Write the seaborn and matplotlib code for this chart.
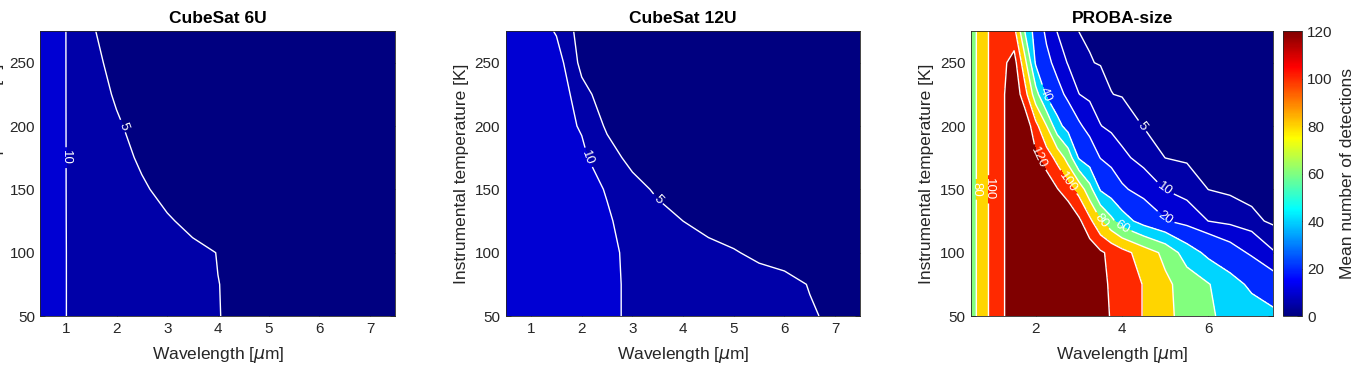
import numpy as np
import matplotlib
matplotlib.use("Agg")
import matplotlib.pyplot as plt
from matplotlib.colors import LinearSegmentedColormap, Normalize
from matplotlib.cm import ScalarMappable
import seaborn as sns

# instrumental temperature rows [K], shared by the three panels
temperature_K = [50, 75, 100, 125, 150, 175, 200, 225, 250, 275]

# CubeSat 6U, mean number of detections (rows = temperature, cols = wavelength)
wavelength_6u = [0.5, 1.0, 1.5, 2.0, 2.5, 3.0, 3.5, 4.0, 4.5, 5.0, 5.5, 6.0, 6.5, 7.0, 7.5]
detections_6u = [
    [11, 10.02, 9.17, 8.35, 7.52, 6.7, 5.87, 5.05, 4.59, 4.16, 3.73, 3.3, 2.86, 2.43, 2.0],
    [11, 10.02, 9.17, 8.34, 7.51, 6.69, 5.86, 5.03, 4.59, 4.16, 3.73, 3.3, 2.86, 2.43, 2.0],
    [11, 10.02, 9.14, 8.29, 7.43, 6.58, 5.72, 4.93, 4.51, 4.1, 3.68, 3.26, 2.84, 2.42, 2.0],
    [11, 10.02, 8.84, 7.67, 6.51, 5.35, 4.2, 3.95, 3.7, 3.45, 3.2, 2.95, 2.7, 2.35, 2.0],
    [11, 10.02, 8.49, 6.99, 5.48, 3.98, 3.8, 3.6, 3.4, 3.2, 3.0, 2.8, 2.6, 2.3, 2.0],
    [11, 10.02, 8.15, 6.3, 4.44, 4.1, 3.9, 3.7, 3.5, 3.3, 3.1, 2.85, 2.6, 2.3, 2.0],
    [11, 10.02, 7.79, 5.58, 3.35, 3.25, 3.15, 3.0, 2.9, 2.8, 2.65, 2.5, 2.35, 2.2, 2.0],
    [11, 10.02, 7.22, 4.45, 4.2, 3.95, 3.7, 3.5, 3.3, 3.1, 2.9, 2.7, 2.5, 2.25, 2.0],
    [11, 10.02, 6.62, 3.25, 3.15, 3.05, 2.95, 2.85, 2.75, 2.65, 2.5, 2.4, 2.25, 2.1, 2.0],
    [11, 10.02, 5.69, 1.9, 1.8, 1.75, 1.7, 1.65, 1.6, 1.55, 1.5, 1.45, 1.4, 1.35, 1.3],
]

# CubeSat 12U
wavelength_12u = [0.5, 1.0, 1.5, 2.0, 2.5, 3.0, 3.5, 4.0, 4.5, 5.0, 5.5, 6.0, 6.5, 7.0, 7.5]
detections_12u = [
    [16, 14.7, 13.4, 12.0, 10.5, 9.6, 9.05, 8.4, 7.75, 7.1, 6.45, 5.8, 5.17, 4.7, 4.5],
    [16, 14.7, 13.4, 12.0, 10.5, 9.6, 8.99, 8.29, 7.6, 6.9, 6.21, 5.51, 4.92, 4.6, 4.3],
    [16, 14.7, 13.4, 12.0, 10.5, 9.49, 8.42, 7.35, 6.28, 5.21, 4.4, 4.3, 4.2, 4.1, 4.0],
    [16, 14.6, 13.2, 11.8, 10.4, 8.65, 6.77, 4.99, 3.6, 3.55, 3.5, 3.45, 3.4, 3.35, 3.3],
    [16, 14.5, 12.9, 11.4, 9.76, 6.79, 4.2, 4.0, 3.85, 3.7, 3.55, 3.4, 3.3, 3.15, 3.0],
    [16, 14.2, 12.4, 10.9, 7.11, 3.5, 3.4, 3.3, 3.2, 3.1, 3.0, 2.9, 2.8, 2.65, 2.5],
    [16, 13.9, 11.7, 9.6, 4.25, 3.1, 3.0, 2.9, 2.8, 2.7, 2.6, 2.5, 2.4, 2.3, 2.2],
    [16, 15.0, 13.9, 6.7, 2.45, 2.4, 2.35, 2.3, 2.25, 2.2, 2.15, 2.1, 2.05, 2.0, 1.95],
    [16, 14.5, 12.5, 3.57, 3.3, 3.2, 3.1, 3.0, 2.9, 2.8, 2.7, 2.6, 2.5, 2.4, 2.3],
    [16, 13.5, 9.52, 2.87, 2.8, 2.7, 2.6, 2.5, 2.4, 2.3, 2.2, 2.1, 2.0, 1.9, 1.8],
]

# PROBA-size
wavelength_proba = [0.5, 0.75, 1.0, 1.25, 1.5, 1.75, 2.0, 2.25, 2.5, 2.75, 3.0,
                    3.25, 3.5, 3.75, 4.0, 4.5, 5.0, 5.5, 6.0, 6.5, 7.0, 7.5]
detections_proba = [
    [70, 90, 106, 118, 135, 140, 140, 140, 140, 140, 138, 132, 125, 119, 112, 99, 85, 73, 62, 56, 50, 45],
    [70, 90, 106, 118, 135, 140, 140, 140, 140, 140, 137, 131, 124, 118, 112, 99, 84, 72, 61, 48, 36, 27],
    [70, 90, 106, 118, 135, 140, 140, 140, 140, 140, 140, 132, 123, 115, 107, 91, 75, 50, 35, 26, 18, 10.5],
    [70, 90, 106, 118, 135, 140, 140, 140, 140, 140, 124, 105, 82, 65, 49, 32, 21, 15, 9.9, 8, 6.1, 4.2],
    [70, 90, 106, 118, 135, 140, 140, 134, 121, 108, 93, 67, 38, 30, 22, 15, 9.8, 7.4, 4.95, 4.3, 3.7, 3.0],
    [70, 90, 106, 118, 135, 138, 124, 110, 94, 72, 38, 28.5, 19.5, 15.5, 11.6, 7.6, 4.95, 4.5, 4.0, 3.5, 3.0, 2.5],
    [70, 90, 106, 118, 135, 135, 106, 80.5, 47, 32, 22, 15.6, 10.2, 8.5, 7.1, 4.86, 4.4, 3.9, 3.4, 2.95, 2.5, 2.0],
    [70, 90, 106, 118, 135, 108, 68, 37, 25.4, 16.6, 10.1, 8.4, 6.9, 5.05, 4.8, 4.3, 3.85, 3.4, 2.9, 2.45, 2.0, 1.5],
    [70, 90, 106, 116, 128.5, 86, 37.4, 24.2, 15.1, 9.4, 7.0, 5.15, 4.8, 4.57, 4.33, 3.86, 3.4, 2.9, 2.4, 1.95, 1.5, 1.0],
    [70, 90, 106, 114, 106, 59, 31, 16.9, 9.7, 7.4, 4.95, 4.7, 4.5, 4.3, 4.05, 3.6, 3.1, 2.65, 2.2, 1.7, 1.25, 0.8],
]

contour_levels = [0, 5, 10, 20, 40, 60, 80, 100, 120]
titles = ["CubeSat 6U", "CubeSat 12U", "PROBA-size"]
xticks_list = [[1, 2, 3, 4, 5, 6, 7], [1, 2, 3, 4, 5, 6, 7], [2, 4, 6]]
yticks = [50, 100, 150, 200, 250]
cbar_ticks = [0, 20, 40, 60, 80, 100, 120]

sns.set_theme(style="white")
plt.rcParams["font.family"] = ["Liberation Sans", "DejaVu Sans"]
plt.rcParams["mathtext.fontset"] = "dejavusans"

# MATLAB style jet
jet = LinearSegmentedColormap.from_list(
    "matlab_jet",
    [(0.0, (0, 0, 0.5)), (1 / 8, (0, 0, 1)), (3 / 8, (0, 1, 1)),
     (5 / 8, (1, 1, 0)), (7 / 8, (1, 0, 0)), (1.0, (0.5, 0, 0))])
norm = Normalize(vmin=0, vmax=120)
band_colors = [jet(norm(v)) for v in contour_levels]
fill_levels = contour_levels + [1000]

dark = (0.15, 0.15, 0.15)

fig = plt.figure(figsize=(13.57, 3.66), dpi=100)
boxes = [[0.0298, 0.1366, 0.2616, 0.7787],
         [0.3727, 0.1366, 0.2614, 0.7787],
         [0.7155, 0.1366, 0.2228, 0.7787]]
panels = [(wavelength_6u, detections_6u), (wavelength_12u, detections_12u),
          (wavelength_proba, detections_proba)]

for box, (wl, det), title, xt in zip(boxes, panels, titles, xticks_list):
    ax = fig.add_axes(box)
    z = np.array(det)
    ax.contourf(wl, temperature_K, z, levels=fill_levels, colors=band_colors)
    cs = ax.contour(wl, temperature_K, z, levels=contour_levels[1:],
                    colors="white", linewidths=1.0)
    ax.clabel(cs, inline=True, fontsize=9.5, fmt="%g", colors="white", inline_spacing=3)
    ax.set_xlim(0.5, 7.5)
    ax.set_ylim(50, 275)
    ax.set_xticks(xt)
    ax.set_yticks(yticks)
    ax.tick_params(direction="in", length=3.5, width=0.6, top=True, right=True,
                   bottom=True, left=True, labelsize=11, colors=dark, pad=4)
    for sp in ax.spines.values():
        sp.set_color(dark)
        sp.set_linewidth(0.6)
    ax.set_title(title, fontsize=12.5, fontweight="bold", color="black", pad=6)
    ax.set_xlabel(r"Wavelength [$\mu$m]", fontsize=12.5, color=dark, labelpad=6.5)
    ax.set_ylabel("Instrumental temperature [K]", fontsize=12.5, color=dark, labelpad=4)

cax = fig.add_axes([0.9452, 0.1366, 0.0145, 0.7787])
cb = fig.colorbar(ScalarMappable(norm=norm, cmap=jet), cax=cax, ticks=cbar_ticks)
cb.ax.tick_params(direction="in", length=3.5, width=0.6, labelsize=11, colors=dark)
cb.outline.set_edgecolor(dark)
cb.outline.set_linewidth(0.6)
cb.set_label("Mean number of detections", fontsize=12.5, color=dark, labelpad=5)

fig.savefig("out.png", dpi=100)
